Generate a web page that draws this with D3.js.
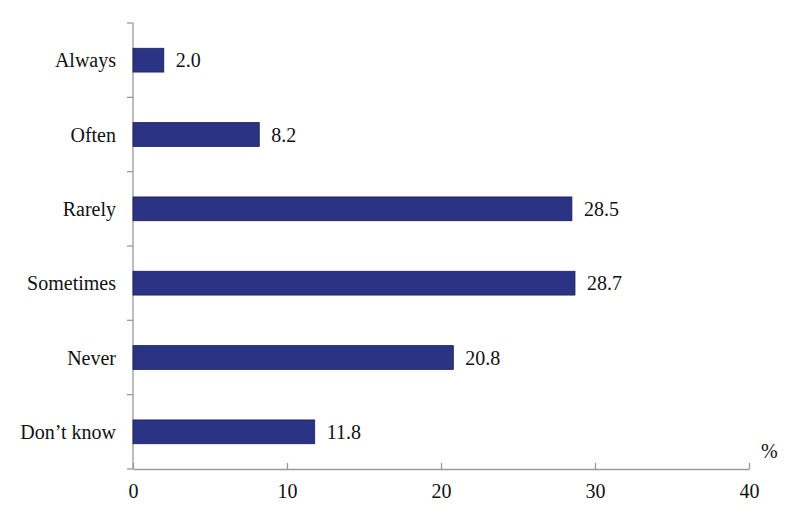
<!DOCTYPE html>
<html><head><meta charset="utf-8">
<script src="https://cdn.jsdelivr.net/npm/d3@7"></script>
<style>body{margin:0;background:#fff}svg{display:block}</style>
</head><body>
<script>
const categories = ["Always","Often","Rarely","Sometimes","Never","Don\u2019t know"];
const values = [2.0, 8.2, 28.5, 28.7, 20.8, 11.8];
const xTicks = [0,10,20,30,40];

const FONT="'Liberation Serif', 'Times New Roman', Times, serif";
const FS=20;
const W=800,H=521, m={left:133,right:51,top:23,bottom:52};
const svg=d3.select("body").append("svg").attr("width",W).attr("height",H)
  .attr("font-family",FONT);
const x=d3.scaleLinear().domain([0,40]).range([m.left,W-m.right]);
const y=d3.scaleBand().domain(categories).range([m.top,H-m.bottom]).paddingInner(0.68).paddingOuter(0.34);
const axisColor="#9a9a9a";

const yBottom=H-m.bottom;
svg.append("line").attr("x1",m.left).attr("x2",m.left).attr("y1",m.top).attr("y2",yBottom).attr("stroke",axisColor).attr("stroke-width",1.3);
const step=y.step();
d3.range(categories.length+1).forEach(i=>{
  const yy=m.top+i*step;
  svg.append("line").attr("x1",m.left-6).attr("x2",m.left).attr("y1",yy).attr("y2",yy).attr("stroke",axisColor).attr("stroke-width",1.3);
});
const xa=svg.append("g").attr("transform",`translate(0,${yBottom})`)
  .call(d3.axisBottom(x).tickValues(xTicks).tickSizeInner(-6).tickSizeOuter(0).tickPadding(15).tickFormat(d3.format("d")));
xa.attr("font-family",FONT).attr("font-size",FS);
xa.select(".domain").attr("stroke",axisColor).attr("stroke-width",1.3);
xa.selectAll(".tick line").attr("stroke",axisColor).attr("stroke-width",1.3);
xa.selectAll(".tick text").attr("fill","#111").attr("font-family",FONT).attr("font-size",FS);

svg.selectAll("rect.bar").data(values).join("rect").attr("class","bar")
  .attr("x",x(0)).attr("y",(d,i)=>y(categories[i]))
  .attr("width",d=>x(d)-x(0)).attr("height",y.bandwidth())
  .attr("fill","#2b3384").attr("stroke","#1a1f55").attr("stroke-width",0.8);

svg.selectAll("text.val").data(values).join("text").attr("class","val")
  .attr("x",d=>x(d)+12).attr("y",(d,i)=>y(categories[i])+y.bandwidth()/2)
  .attr("dy","0.35em").attr("font-size",FS).attr("font-family",FONT).attr("fill","#111").text(d=>d.toFixed(1));

svg.selectAll("text.cat").data(categories).join("text").attr("class","cat")
  .attr("x",m.left-17).attr("y",d=>y(d)+y.bandwidth()/2)
  .attr("dy","0.35em").attr("text-anchor","end").attr("font-size",FS).attr("font-family",FONT).attr("fill","#111").text(d=>d);

svg.append("text").attr("x",761).attr("y",458).attr("font-size",FS).attr("font-family",FONT).attr("fill","#111").text("%");
</script>
</body></html>
